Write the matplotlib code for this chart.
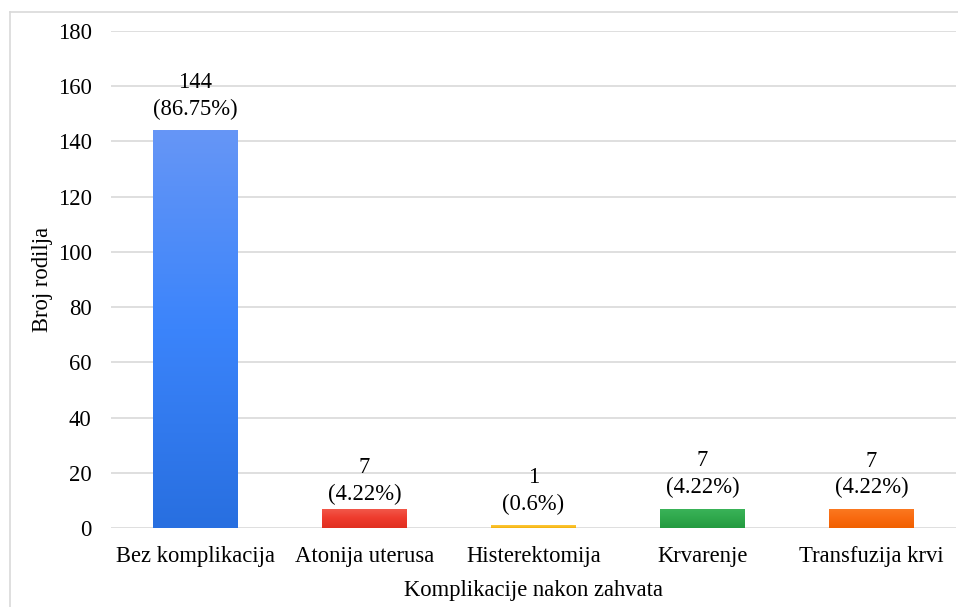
import numpy as np
import matplotlib.pyplot as plt
from matplotlib.colors import LinearSegmentedColormap
from matplotlib.lines import Line2D

# podaci
kategorije = ["Bez komplikacija", "Atonija uterusa", "Histerektomija",
              "Krvarenje", "Transfuzija krvi"]
broj = [144, 7, 1, 7, 7]
postotak = ["86.75%", "4.22%", "0.6%", "4.22%", "4.22%"]

# razmak oznake iznad stupca (u tockama)
pomak = [7.5, 3, 7.5, 8, 7.5]

# gradijent boja (vrh, sredina, dno)
boje = [
    ("#6696f6", "#3b84fb", "#286fe0"),
    ("#f25a4c", "#ee3b2d", "#e02f20"),
    ("#fcc83a", "#fbbf24", "#f0b010"),
    ("#3bb45a", "#2fa84c", "#249a40"),
    ("#fb7a22", "#f96a10", "#f06000"),
]

plt.rcParams['font.family'] = ['Liberation Serif', 'DejaVu Serif']
FS = 16.3

fig = plt.figure(figsize=(9.58, 6.07), dpi=100)
ax = fig.add_axes([0.1159, 0.130, 0.882, 0.819])

x = np.arange(len(kategorije))
sirina = 0.5
bars = ax.bar(x, broj, width=sirina, color="none", edgecolor="none", zorder=3)

for b, (c1, c2, c3) in zip(bars, boje):
    cmap = LinearSegmentedColormap.from_list("g", [c3, c2, c1])
    grad = np.linspace(0, 1, 256).reshape(-1, 1)
    x0, y0 = b.get_x(), b.get_y()
    w, h = b.get_width(), b.get_height()
    im = ax.imshow(grad, cmap=cmap, aspect="auto", origin="lower",
                   extent=(x0, x0 + w, y0, y0 + h), zorder=3)
    im.set_clip_path(b)

for xi, n, p, d in zip(x, broj, postotak, pomak):
    ax.annotate(f"{n}\n({p})", (xi, n), xytext=(0, d),
                textcoords="offset points", ha="center", va="bottom",
                fontsize=FS, linespacing=1.35, zorder=4)

ax.set_xlim(-0.5, len(kategorije) - 0.5)
ax.set_ylim(0, 180)
ax.set_yticks(range(0, 181, 20))
ax.set_xticks(x)
ax.set_xticklabels(kategorije)
ax.tick_params(axis="both", length=0, labelsize=FS)
ax.tick_params(axis="x", pad=13)
ax.tick_params(axis="y", pad=14)
ax.grid(axis="y", color="#d9d9d9", linewidth=1.2, zorder=0)
ax.set_axisbelow(True)
for s in ax.spines.values():
    s.set_visible(False)

ax.set_xlabel("Komplikacije nakon zahvata", fontsize=FS, labelpad=9)
ax.set_ylabel("Broj rodilja", fontsize=FS, labelpad=3)

# okvir grafikona
fig.add_artist(Line2D([10 / 958, 10 / 958], [0, 1 - 12 / 607],
                      transform=fig.transFigure, color="#d9d9d9", lw=1.2))
fig.add_artist(Line2D([10 / 958, 1], [1 - 12 / 607, 1 - 12 / 607],
                      transform=fig.transFigure, color="#d9d9d9", lw=1.2))

fig.savefig("out.png", dpi=100)
